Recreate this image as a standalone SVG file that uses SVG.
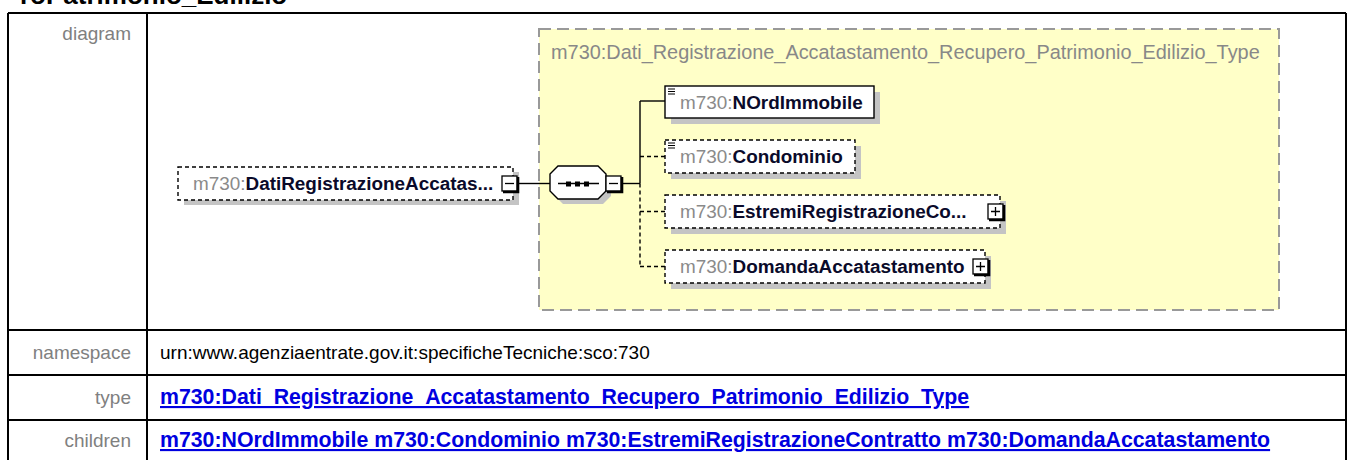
<svg xmlns="http://www.w3.org/2000/svg" width="1349" height="460" viewBox="0 0 1349 460">
<style>
.hdr{font-family:"Liberation Sans",Arial,sans-serif;font-size:26px;font-weight:bold;fill:#000}
.lbl{font-family:"Liberation Sans",Arial,sans-serif;font-size:19px;fill:#808080;text-anchor:end}
.val{font-family:"Liberation Sans",Arial,sans-serif;font-size:19px;fill:#000}
.lnk{font-family:"Liberation Sans",Arial,sans-serif;font-size:21.3px;font-weight:bold;fill:#0000e0;text-decoration:underline}
.grid{stroke:#000;stroke-width:2;fill:none}
.nt{font-family:"Liberation Sans",Arial,sans-serif;font-size:18.9px}
.ns{fill:#8a8a8a}
.nm{fill:#0a0a2a;font-weight:bold}
.ttl{font-family:"Liberation Sans",Arial,sans-serif;font-size:19.9px;fill:#888}
.box{fill:#fff;stroke:#000;stroke-width:1.4}
.opt{stroke-dasharray:4 3}
.shd{fill:#c4c4c4}
.con{stroke:#000;stroke-width:1.4;fill:none}
.btn{fill:#fff;stroke:#000;stroke-width:1.3}
.bsh{stroke:#000;stroke-width:2.6;fill:none}
.sgn{stroke:#000;stroke-width:1.3;fill:none}
.ico{stroke:#000;stroke-width:1.1}
</style>
<defs>
<g id="minus"><rect class="btn" x="0" y="0" width="15" height="15"/><path class="bsh" d="M1,16 H16 V1"/><path class="sgn" d="M3,7.5 H12"/></g>
<g id="plus"><rect class="btn" x="0" y="0" width="15" height="15"/><path class="bsh" d="M1,16 H16 V1"/><path class="sgn" d="M3,7.5 H12 M7.5,3 V12"/></g>
</defs>

<text class="hdr" x="20" y="4">roPatrimonio_Edilizio</text>

<g id="table">
<path class="grid" d="M8,13 H1346 M8,13 V460 M147,13 V460 M1346,13 V460 M8,330 H1346 M8,375 H1346 M8,420 H1346"/>
<text class="lbl" x="131" y="40">diagram</text>
<text class="lbl" x="131" y="359">namespace</text>
<text class="lbl" x="131" y="404">type</text>
<text class="lbl" x="131" y="447">children</text>
<text class="val" x="160" y="359">urn:www.agenziaentrate.gov.it:specificheTecniche:sco:730</text>
<text class="lnk" x="160" y="404">m730:Dati_Registrazione_Accatastamento_Recupero_Patrimonio_Edilizio_Type</text>
<text class="lnk" x="160" y="447">m730:NOrdImmobile m730:Condominio m730:EstremiRegistrazioneContratto m730:DomandaAccatastamento</text>
</g>

<g id="type-box">
<rect x="539" y="29" width="740" height="281" fill="#ffffc8" stroke="#999" stroke-width="2" stroke-dasharray="12 6"/>
<text class="ttl" x="551" y="59">m730:Dati_Registrazione_Accatastamento_Recupero_Patrimonio_Edilizio_Type</text>
</g>

<g id="connectors">
<path class="con" d="M518,183.5 H550"/>
<path class="con" d="M622,183.5 H640"/>
<path class="con" d="M640,101 V183.5"/>
<path class="con opt" d="M640,183.5 V267"/>
<path class="con" d="M640,101 H665"/>
<path class="con opt" d="M640,156.5 H665"/>
<path class="con opt" d="M640,211.5 H665"/>
<path class="con opt" d="M640,266.5 H665"/>
</g>

<g id="node-main">
<rect class="shd" x="184" y="172" width="335" height="33"/>
<rect class="box opt" x="178" y="167" width="335" height="33"/>
<text class="nt" x="193" y="190"><tspan class="ns">m730:</tspan><tspan class="nm">DatiRegistrazioneAccatas...</tspan></text>
<use href="#minus" x="502" y="176"/>
</g>

<g id="sequence">
<polygon class="shd" points="563,171 603,171 611,179 611,196 603,204 563,204 555,196 555,179"/>
<polygon class="box" points="558,166 598,166 606,174 606,191 598,199 558,199 550,191 550,174"/>
<path class="con" d="M558,183.5 H599"/>
<rect x="566" y="181.5" width="5" height="5" fill="#000"/>
<rect x="575" y="181.5" width="5" height="5" fill="#000"/>
<rect x="584" y="181.5" width="5" height="5" fill="#000"/>
<use href="#minus" x="606" y="176"/>
</g>

<g id="node-nordimmobile">
<rect class="shd" x="671" y="92" width="209" height="32"/>
<rect class="box" x="665" y="86" width="209" height="32"/>
<path class="ico" d="M668,89 H675 M668,91.5 H675 M668,94 H675"/>
<text class="nt" x="680" y="108.5"><tspan class="ns">m730:</tspan><tspan class="nm">NOrdImmobile</tspan></text>
</g>

<g id="node-condominio">
<rect class="shd" x="671" y="146" width="190" height="33"/>
<rect class="box opt" x="665" y="140" width="190" height="33"/>
<path class="ico" d="M668,143 H675 M668,145.5 H675 M668,148 H675"/>
<text class="nt" x="680" y="163"><tspan class="ns">m730:</tspan><tspan class="nm">Condominio</tspan></text>
</g>

<g id="node-estremi">
<rect class="shd" x="671" y="201" width="335" height="33"/>
<rect class="box opt" x="665" y="195" width="335" height="33"/>
<text class="nt" x="680" y="218"><tspan class="ns">m730:</tspan><tspan class="nm">EstremiRegistrazioneCo...</tspan></text>
<use href="#plus" x="988" y="204"/>
</g>

<g id="node-domanda">
<rect class="shd" x="671" y="256" width="320" height="33"/>
<rect class="box opt" x="665" y="250" width="320" height="33"/>
<text class="nt" x="680" y="273"><tspan class="ns">m730:</tspan><tspan class="nm">DomandaAccatastamento</tspan></text>
<use href="#plus" x="973" y="259"/>
</g>
</svg>
